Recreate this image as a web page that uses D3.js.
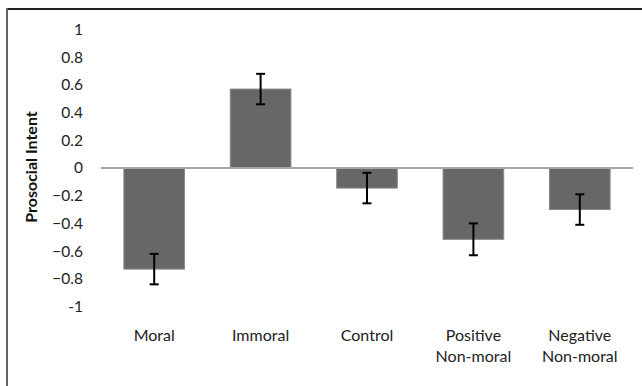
<!DOCTYPE html>
<html><head><meta charset="utf-8">
<script src="https://cdn.jsdelivr.net/npm/d3@7"></script>
<style>html,body{margin:0;padding:0;background:#fff;}svg{display:block;}</style>
</head><body>
<svg id="c" width="642" height="386"></svg>
<script>
const categories = [["Moral"],["Immoral"],["Control"],["Positive","Non-moral"],["Negative","Non-moral"]];
const values = [-0.73, 0.57, -0.145, -0.515, -0.30];
const errors = [0.11, 0.11, 0.11, 0.115, 0.11];
const tickValues = [1,0.8,0.6,0.4,0.2,0,-0.2,-0.4,-0.6,-0.8,-1];
const tickLabels = ["1","0.8","0.6","0.4","0.2","0","\u22120.2","\u22120.4","\u22120.6","\u22120.8","-1"];
const yTitle = "Prosocial Intent";

const svg = d3.select("#c");
const font = "Lato, 'Open Sans', sans-serif";
const x = d3.scaleBand().domain(d3.range(categories.length)).range([101,633]).paddingInner(0.43).paddingOuter(0.215);
const y = d3.scaleLinear().domain([-1,1]).range([306.5,29.5]);

// frame
svg.append("line").attr("x1",7).attr("x2",642).attr("y1",9).attr("y2",9).attr("stroke","#222").attr("stroke-width",2);
svg.append("line").attr("x1",7).attr("x2",7).attr("y1",8).attr("y2",386).attr("stroke","#666").attr("stroke-width",2);

// bars
svg.selectAll("rect.bar").data(values).enter().append("rect")
  .attr("x",(d,i)=>x(i)).attr("width",x.bandwidth())
  .attr("y",d=>y(Math.max(0,d))).attr("height",d=>Math.abs(y(d)-y(0)))
  .attr("fill","#676767").attr("stroke","#8a8a8a").attr("stroke-width",1);

// zero line
svg.append("line").attr("x1",101).attr("x2",633).attr("y1",y(0)).attr("y2",y(0)).attr("stroke","#a6a6a6").attr("stroke-width",2);

// error bars
const eb = svg.selectAll("g.eb").data(values).enter().append("g");
eb.append("line").attr("x1",(d,i)=>x(i)+x.bandwidth()/2).attr("x2",(d,i)=>x(i)+x.bandwidth()/2)
  .attr("y1",(d,i)=>y(d+errors[i])).attr("y2",(d,i)=>y(d-errors[i])).attr("stroke","#000").attr("stroke-width",2);
[1,-1].forEach(s=>{
  eb.append("line").attr("x1",(d,i)=>x(i)+x.bandwidth()/2-4.5).attr("x2",(d,i)=>x(i)+x.bandwidth()/2+4.5)
    .attr("y1",(d,i)=>y(d+s*errors[i])).attr("y2",(d,i)=>y(d+s*errors[i])).attr("stroke","#000").attr("stroke-width",2);
});

// y axis labels
const yAxis = d3.axisLeft(y).tickValues(tickValues).tickSize(0).tickPadding(0).tickFormat((d,i)=>tickLabels[i]);
const gy = svg.append("g").attr("transform","translate(83,0)").call(yAxis);
gy.select(".domain").remove();
gy.selectAll("text").attr("font-family",font).attr("font-size",15.5).attr("fill","#222");

// x labels
const gx = svg.append("g");
categories.forEach((lines,i)=>{
  const t = gx.append("text").attr("x",x(i)+x.bandwidth()/2).attr("y",341).attr("text-anchor","middle")
    .attr("font-family",font).attr("font-size",16).attr("fill","#222");
  lines.forEach((l,j)=>t.append("tspan").attr("x",x(i)+x.bandwidth()/2).attr("dy",j?21:0).text(l));
});

// y title
svg.append("text").attr("transform","translate(37,167) rotate(-90)").attr("text-anchor","middle")
  .attr("font-family",font).attr("font-size",16).attr("font-weight","bold").attr("fill","#111").text(yTitle);
</script>
</body></html>
